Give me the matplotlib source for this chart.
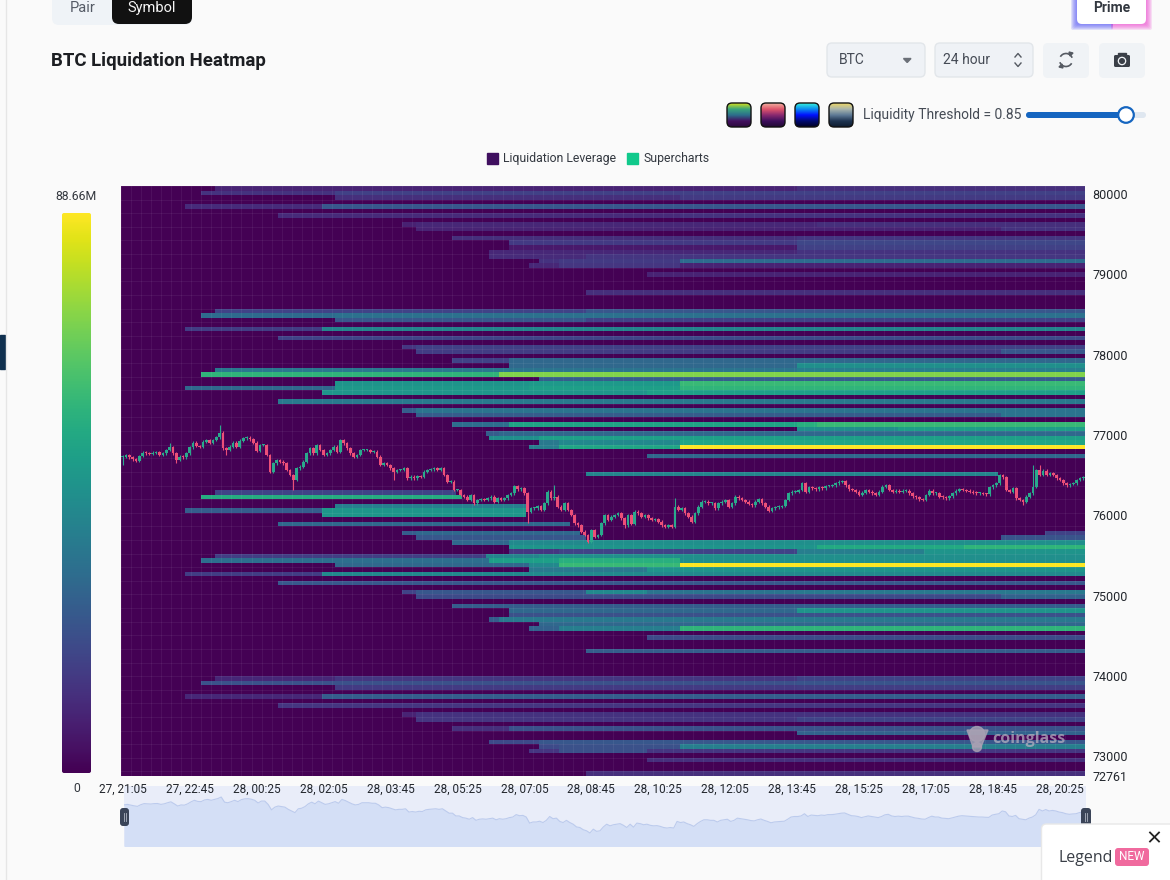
"""BTC liquidation heatmap, with the page controls drawn around it."""

import matplotlib
matplotlib.use("Agg")
import matplotlib.pyplot as plt
import numpy as np
from matplotlib.colors import LinearSegmentedColormap
from matplotlib.patches import Arc, Circle, FancyBboxPatch, Polygon, Rectangle

W, H = 1170, 880
BG = "#fafafa"

# ─── axis data ─────────────────────────────────────────────────────────── #
time_labels = ["27, 21:05", "27, 22:45", "28, 00:25", "28, 02:05", "28, 03:45",
               "28, 05:25", "28, 07:05", "28, 08:45", "28, 10:25", "28, 12:05",
               "28, 13:45", "28, 15:25", "28, 17:05", "28, 18:45", "28, 20:25"]
time_ticks = [0, 20, 40, 60, 80, 100, 120, 140, 160, 180, 200, 220, 240, 260, 280]
price_ticks = [80000, 79000, 78000, 77000, 76000, 75000, 74000, 73000, 72761]
price_top = 80100
row_size = 56.5
n_rows = 130
n_candles = 288
value_max = 88.66

# ─── 5 minute closes ─────────────────────────────── #
closes = [
    76730, 76751, 76722, 76697, 76676, 76739, 76780, 76772, 76764, 76780,
    76784, 76751, 76772, 76813, 76847, 76772, 76689, 76730, 76722, 76772,
    76847, 76905, 76863, 76855, 76917, 76938, 76905, 76938, 76971, 77029,
    76834, 76813, 76855, 76905, 76855, 76930, 76959, 76967, 76946, 76905,
    76805, 76876, 76876, 76751, 76544, 76647, 76689, 76668, 76647, 76564,
    76502, 76440, 76585, 76606, 76668, 76772, 76834, 76772, 76876, 76813,
    76751, 76772, 76813, 76855, 76793, 76938, 76896, 76834, 76772, 76730,
    76751, 76813, 76813, 76813, 76793, 76793, 76730, 76627, 76647, 76627,
    76585, 76544, 76564, 76564, 76585, 76461, 76481, 76461, 76490, 76481,
    76544, 76564, 76573, 76585, 76564, 76585, 76502, 76419, 76419, 76315,
    76315, 76253, 76232, 76191, 76253, 76149, 76191, 76203, 76191, 76211,
    76232, 76170, 76211, 76191, 76211, 76253, 76274, 76365, 76324, 76336,
    76274, 76045, 76087, 76087, 76116, 76066, 76149, 76294, 76211, 76232,
    76108, 76066, 76149, 76066, 76004, 75900, 75879, 75796, 75755, 75672,
    75817, 75734, 75755, 75900, 76004, 75942, 75983, 76004, 76025,
    75962, 75879, 76004, 75892, 76045, 76025, 75983, 76004, 75962, 75942,
    75950, 75921, 75879, 75859, 75879, 75859, 76108, 76066, 76087, 76025,
    75983, 75921, 76025, 76108, 76170, 76170, 76149, 76149, 76087, 76149,
    76170, 76191, 76108, 76149, 76232, 76211, 76191, 76170, 76141, 76128,
    76170, 76199, 76149, 76108, 76058, 76087, 76099, 76108, 76116, 76191,
    76274, 76294, 76294, 76315, 76398, 76294, 76348, 76336, 76324, 76348,
    76336, 76365, 76365, 76377, 76398, 76419, 76427, 76377, 76324, 76315,
    76294, 76253, 76282, 76315, 76294, 76274, 76253, 76294, 76357, 76377,
    76315, 76294, 76307, 76294, 76307, 76307, 76274, 76240, 76224, 76199,
    76191, 76253, 76307, 76274, 76274, 76232, 76224, 76211, 76240, 76274,
    76307, 76324, 76315, 76307, 76294, 76282, 76274, 76274, 76265, 76261,
    76348, 76377, 76398, 76502, 76473, 76315, 76294, 76336, 76211, 76191,
    76170, 76232, 76274, 76357, 76564, 76502, 76556, 76502, 76523, 76502,
    76461, 76440, 76398, 76377, 76390, 76398, 76440, 76461, 76473,
]
# the long wicks; every other candle gets the usual small one
spike_high_at = [14, 29, 129, 165, 263, 272, 274]
spike_high = [76900, 77125, 76380, 76220, 76520, 76627, 76630]
spike_low_at = [0, 16, 31, 51, 81, 121, 139, 150, 269]
spike_low = [76627, 76656, 76750, 76315, 76440, 75908, 75650, 75838, 76128]
usual_wick = 18

# ─── liquidity bands: heatmap row, then (candle, value in M) from that candle ─ #
rows_a = [0, 1, 2, 4, 6, 8, 9, 11, 12, 13, 14, 15, 16, 17, 19, 23]
steps_a = [
    [(28, 9), (202, 12)], [(24, 13), (64, 17)], [(64, 12), (167, 15)],
    [(19, 11), (60, 24)], [(47, 11), (167, 13)], [(84, 8), (88, 10), (208, 12)],
    [(88, 9), (263, 13)], [(99, 12), (202, 14)], [(116, 15), (202, 19)],
    [(116, 6), (202, 17)], [(110, 10), (202, 13)], [(110, 11), (139, 14)],
    [(125, 13), (131, 15), (167, 31)], [(122, 10), (131, 14), (167, 9)],
    [(157, 9)], [(139, 12)],
]
rows_b = [27, 28, 29, 31, 33, 35, 36, 38, 39]
steps_b = [
    [(28, 18), (139, 24)], [(24, 31), (64, 33)], [(64, 24), (139, 18)],
    [(19, 16), (60, 40)], [(47, 18), (167, 20)], [(84, 14), (88, 17)],
    [(88, 16), (263, 24)], [(99, 18), (116, 30)], [(116, 30), (202, 44)],
]
rows_c = [40, 41, 42, 43, 44, 45, 47, 49, 50, 52, 53, 54, 55, 56, 57, 59, 63]
steps_c = [
    [(28, 36), (116, 34), (202, 38)], [(24, 58), (113, 72)], [(125, 26)],
    [(64, 46), (122, 48), (167, 60)], [(19, 30), (64, 48), (122, 50), (167, 58)],
    [(60, 46), (157, 50)], [(47, 36)], [(84, 26), (88, 34)], [(88, 26), (263, 34)],
    [(99, 32), (116, 52), (202, 56), (208, 60)], [(202, 44), (232, 50)],
    [(109, 26), (113, 30)], [(110, 44), (125, 50)],
    [(125, 36), (131, 42), (167, 52)], [(122, 38), (131, 52), (167, 88.66)],
    [(157, 30)], [(139, 40), (262, 0)],
]
rows_d = [67, 68, 70, 71, 72, 74, 76, 77, 78, 79, 80, 81, 82, 83, 84, 85]
steps_d = [
    [(28, 18), (100, 0)], [(24, 55), (102, 0)], [(64, 38), (121, 0)],
    [(19, 26), (60, 47), (121, 0)], [(60, 47), (121, 0)], [(47, 30), (134, 0)],
    [(84, 26), (88, 30), (137, 0), (276, 18)],
    [(88, 24), (139, 0), (263, 23)], [(99, 30), (116, 42), (139, 44)],
    [(116, 46), (208, 54), (252, 58)], [(116, 14), (131, 18), (202, 38), (240, 46)],
    [(28, 16), (109, 40), (125, 44)], [(24, 32), (110, 50), (131, 56), (167, 44)],
    [(64, 30), (122, 42), (131, 60), (167, 88.66)], [(122, 36), (157, 46)],
    [(19, 16), (60, 42)],
]
rows_e = [87, 89, 90, 92, 93, 94, 95, 96, 97, 99, 102]
steps_e = [
    [(47, 24)], [(84, 18), (88, 24), (139, 42), (157, 34), (202, 36)],
    [(88, 20), (263, 28)], [(99, 26)], [(116, 30), (202, 46)], [(116, 22)],
    [(110, 26), (113, 36)], [(125, 30)], [(122, 28), (131, 38), (167, 58)],
    [(157, 20)], [(139, 26)],
]
rows_f = [108, 109, 110, 112, 114, 116, 117, 119, 120, 122, 123, 124, 126, 129]
steps_f = [
    [(28, 10), (64, 14), (202, 18)], [(24, 22), (202, 23)], [(64, 15), (202, 16)],
    [(19, 10), (60, 26)], [(47, 14)], [(84, 9), (88, 13)], [(88, 14), (202, 18)],
    [(99, 12), (116, 22)], [(202, 28)], [(110, 20), (125, 24)],
    [(125, 20), (131, 22), (167, 38)], [(122, 14), (131, 22), (157, 14)],
    [(157, 12)], [(139, 12)],
]

plt.rcParams["font.family"] = ["Roboto", "DejaVu Sans"]
fig = plt.figure(figsize=(W / 100, H / 100), dpi=100, facecolor=BG)


def px_axes(x, y, w, h, zorder=1):
    """Axes placed by page pixels, y measured from the top."""
    return fig.add_axes([x / W, 1 - (y + h) / H, w / W, h / H], zorder=zorder)


def round_box(ax, x0, y0, x1, y1, r, **kw):
    patch = FancyBboxPatch((x0, y0), x1 - x0, y1 - y0,
                           boxstyle=f"round,pad=0,rounding_size={r}", **kw)
    ax.add_patch(patch)
    return patch


def gradient_box(x, y, w, h, stops, r, edge=None):
    """Vertical gradient in a rounded box, first stop at the top."""
    ax = px_axes(x, y, w, h, zorder=4)
    ax.set_axis_off()
    cmap = LinearSegmentedColormap.from_list("g", stops)
    im = ax.imshow(np.linspace(0, 1, 200)[:, None], cmap=cmap, aspect="auto",
                   extent=(0, w, h, 0), interpolation="bilinear")
    clip = FancyBboxPatch((0, 0), w, h, boxstyle=f"round,pad=0,rounding_size={r}",
                          transform=ax.transData, facecolor="none",
                          edgecolor=edge or "none", linewidth=1.0, clip_on=False)
    ax.add_patch(clip)
    im.set_clip_path(clip)
    ax.set_xlim(0, w)
    ax.set_ylim(h, 0)


# ─── heatmap ───────────────────────────────────────────────────────────── #
heat = np.zeros((n_rows, n_candles))
for rows, steps in [(rows_a, steps_a), (rows_b, steps_b), (rows_c, steps_c),
                    (rows_d, steps_d), (rows_e, steps_e), (rows_f, steps_f)]:
    for row, row_steps in zip(rows, steps):
        for candle, value in row_steps:
            heat[row, candle:] = value

price_bottom = price_top - n_rows * row_size
ax = px_axes(121, 186, 964, 590, zorder=3)
ax.imshow(heat, cmap="viridis", vmin=0, vmax=value_max, aspect="auto",
          interpolation="nearest",
          extent=(-0.5, n_candles - 0.5, price_bottom, price_top))

# faint cell grid over the heat
ax.set_xticks(np.arange(-0.5, n_candles, 3), minor=True)
ax.set_yticks(price_top - np.arange(0, n_rows, 3) * row_size, minor=True)
ax.grid(which="minor", color="white", linewidth=0.6, alpha=0.07)
ax.tick_params(which="minor", length=0)

# candles
opens = np.array([closes[0]] + closes[:-1], dtype=float)
close_arr = np.array(closes, dtype=float)
highs = np.maximum(opens, close_arr) + usual_wick
lows = np.minimum(opens, close_arr) - usual_wick
highs[spike_high_at] = spike_high
lows[spike_low_at] = spike_low
idx = np.arange(len(closes))
colors = np.where(close_arr >= opens, "#2aa98c", "#ec4f78")
ax.vlines(idx, lows, highs, colors=colors, linewidth=0.8, zorder=3)
ax.bar(idx, np.maximum(np.abs(close_arr - opens), 12),
       bottom=np.minimum(opens, close_arr), width=0.8, color=colors, zorder=4)

ax.set_xlim(-0.5, n_candles - 0.5)
ax.set_ylim(price_bottom, price_top)
ax.set_xticks(time_ticks)
ax.set_xticklabels(time_labels, fontsize=8.5, color="#22262c")
ax.yaxis.tick_right()
ax.set_yticks(price_ticks)
ax.set_yticklabels([str(p) for p in price_ticks], fontsize=9, color="#22262c")
ax.tick_params(axis="both", which="major", length=0)
ax.tick_params(axis="x", pad=5)
ax.tick_params(axis="y", pad=5.5)
for spine in ax.spines.values():
    spine.set_visible(False)

# watermark
wm = dict(color="#b9b4c2", alpha=0.72, zorder=6)
ax.text(0.980, 0.0625, "coinglass", transform=ax.transAxes, ha="right",
        va="center", fontsize=11.5, fontweight="bold", family=["Open Sans", "DejaVu Sans"], **wm)

# ─── overview strip under the chart ────────────────────────────────────── #
mini = px_axes(124, 786, 962, 60, zorder=2)
mini.set_facecolor("#e9edf9")
mini.fill_between(idx, close_arr, 75000, color="#d4dff6", linewidth=0)
mini.plot(idx, close_arr, color="#bccbed", linewidth=0.8)
mini.set_xlim(0, n_candles - 1)
mini.set_ylim(75182, 77444)
mini.set_axis_off()
mini.add_patch(Rectangle((0, 0), 1, 1, transform=mini.transAxes, color="#e9edf9", zorder=0))

# ─── page furniture, in page pixels ────────────────────────────────────── #
ui = fig.add_axes([0, 0, 1, 1], zorder=5)
ui.set_xlim(0, W)
ui.set_ylim(H, 0)
ui.set_axis_off()
ui.patch.set_alpha(0)

ui.plot([5.5, 5.5], [0, H], color="#e6e6e6", linewidth=1)
ui.add_patch(Rectangle((0, 335), 5, 34, color="#10304f"))

# Pair / Symbol tabs
round_box(ui, 52, -12, 192, 25, 7, facecolor="#eff3f7", edgecolor="none")
round_box(ui, 112, -12, 192, 24, 7, facecolor="#111111", edgecolor="none")
ui.text(83, 8, "Pair", fontsize=10.5, color="#555b66", ha="center", va="center")
ui.text(152, 8, "Symbol", fontsize=10.5, color="#f5f5f5", ha="center", va="center")

ui.text(51, 60.5, "BTC Liquidation Heatmap", fontsize=13.4, fontweight="bold",
        color="#1c1e22", va="center", family=["Roboto", "DejaVu Sans"])

# Prime button with its blue to magenta glow
for grow in range(1, 7):
    round_box(ui, 1077 - grow, -5, 1113, 24 + grow, 2, facecolor="#5b5cf6",
              edgecolor="none", alpha=0.17)
    round_box(ui, 1111, -5, 1146 + grow, 24 + grow, 2, facecolor="#ee4fd2",
              edgecolor="none", alpha=0.17)
round_box(ui, 1077, -5, 1146, 24, 5, facecolor="white", edgecolor="none")
ui.text(1111.5, 8, "Prime", fontsize=10, fontweight="bold", color="#333840",
        ha="center", va="center")

# selectors
for x0, x1 in [(827, 925), (935, 1033)]:
    round_box(ui, x0, 43, x1, 77, 5, facecolor="#eff2f6", edgecolor="#e2e6ea", linewidth=1)
for x0, x1 in [(1043, 1089), (1099, 1145)]:
    round_box(ui, x0, 43, x1, 78, 5, facecolor="#f0f3f6", edgecolor="none")
ui.text(839, 60, "BTC", fontsize=10, color="#454b55", va="center")
ui.text(943, 60, "24 hour", fontsize=10, color="#454b55", va="center")
ui.add_patch(Polygon([(903.5, 58.5), (911, 58.5), (907.2, 62.5)], color="#6b7078"))
ui.plot([1015, 1018, 1021], [57, 53.5, 57], color="#555a62", linewidth=1)
ui.plot([1015, 1018, 1021], [63, 66.5, 63], color="#555a62", linewidth=1)

# refresh and camera icons
ui.add_patch(Arc((1066, 60), 13, 13, theta1=30, theta2=160, color="#555a62", linewidth=1.2))
ui.add_patch(Arc((1066, 60), 13, 13, theta1=210, theta2=340, color="#555a62", linewidth=1.2))
ui.add_patch(Polygon([(1069, 52), (1073, 53), (1070, 56)], color="#555a62"))
ui.add_patch(Polygon([(1063, 68), (1059, 67), (1062, 64)], color="#555a62"))
round_box(ui, 1114, 55, 1130, 67, 1.5, facecolor="#3b4048", edgecolor="none")
ui.add_patch(Rectangle((1118, 53), 8, 3, color="#3b4048"))
ui.add_patch(Circle((1122, 61), 3.6, color="#f0f3f6"))
ui.add_patch(Circle((1122, 61), 2.3, color="#3b4048"))

# palette swatches
gradient_box(727, 103, 24, 24, ["#d8e21c", "#3aa67c", "#2c6f8c", "#43105f", "#2b0a3d"], 5, "#111111")
gradient_box(761, 103, 24, 24, ["#f2b2a0", "#e0566c", "#8a2a70", "#3d0f5c", "#220a33"], 5, "#111111")
gradient_box(795, 103, 24, 24, ["#35f2dc", "#0a8cf0", "#0010ff", "#000a70", "#000022"], 5, "#111111")
gradient_box(829, 103, 24, 24, ["#efd866", "#a9b5ad", "#5f7b96", "#1e3350", "#0e1c30"], 5, "#111111")

# threshold slider
ui.text(863, 114.5, "Liquidity Threshold = 0.85", fontsize=10, color="#454b55", va="center")
round_box(ui, 1026, 112, 1146, 118, 3, facecolor="#dfe7f0", edgecolor="none")
round_box(ui, 1026, 112, 1126, 118, 3, facecolor="#1565c0", edgecolor="none")
ui.add_patch(Circle((1126, 115), 7.8, facecolor="white", edgecolor="#1565c0", linewidth=1.6))

# chart legend
ui.add_patch(Rectangle((487, 153), 11, 11, color="#3f0f5f"))
ui.text(503, 158.5, "Liquidation Leverage", fontsize=8.8, color="#333840", va="center")
ui.add_patch(Rectangle((627, 153), 11, 11, color="#10c98b"))
ui.text(643, 158.5, "Supercharts", fontsize=8.8, color="#333840", va="center")

# colour scale
gradient_box(62, 213, 29, 560, [plt.get_cmap("viridis")(v) for v in np.linspace(1, 0, 24)], 2)
ui.text(76.5, 196, "88.66M", fontsize=8.8, color="#33373e", ha="center", va="center")
ui.text(76.5, 788, "0", fontsize=8.8, color="#33373e", ha="center", va="center")

# watermark bear
ui.add_patch(Circle((977, 734), 7.5, color="#a9a1b3", alpha=0.8))
ui.add_patch(Polygon([(967, 730), (988, 730), (981, 747), (973, 747)], color="#a9a1b3", alpha=0.8))
ui.add_patch(Circle((977, 747), 4.5, color="#a9a1b3", alpha=0.8))

# range handles of the overview strip
round_box(ui, 120, 808, 129, 826, 3, facecolor="#3a4458", edgecolor="none")
round_box(ui, 1081, 808, 1091, 826, 3, facecolor="#3a4458", edgecolor="none")
for hx in (124.5, 1086):
    ui.plot([hx - 1, hx - 1], [813, 821], color="#aeb5c2", linewidth=0.6)
    ui.plot([hx + 1, hx + 1], [813, 821], color="#aeb5c2", linewidth=0.6)

# Legend pop-up
round_box(ui, 1041.5, 824, 1180, 900, 5, facecolor="white", edgecolor="#e8e8e8", linewidth=1)
ui.plot([1150, 1159], [832.5, 841.5], color="#222222", linewidth=1.3)
ui.plot([1150, 1159], [841.5, 832.5], color="#222222", linewidth=1.3)
ui.text(1058, 858, "Legend", fontsize=11.5, color="#3a3f47", va="center",
        family=["Open Sans", "DejaVu Sans"])
round_box(ui, 1115, 848, 1149, 866, 3, facecolor="#f06a9e", edgecolor="none")
ui.text(1132, 857, "NEW", fontsize=8.5, color="white", ha="center", va="center")

fig.savefig("out.png", dpi=100, facecolor=BG)
